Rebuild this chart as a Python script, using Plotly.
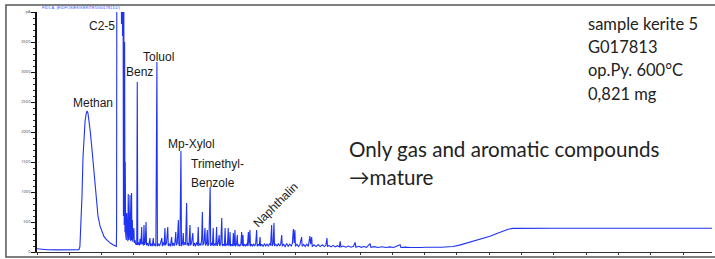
import plotly.graph_objects as go

# ---------------- data ----------------
# retention time (min), FID signal (pA)
# baseline + methane
t_methane = [0.00, 0.15, 0.40, 0.80, 1.20, 1.55, 1.62, 1.66, 1.70, 1.74, 1.78, 1.82, 1.86, 1.90,
             1.935, 1.97, 2.01, 2.05, 2.13, 2.19, 2.25, 2.31, 2.36, 2.44, 2.52, 2.59, 2.67, 2.75,
             2.85, 2.94, 3.02, 3.07]
s_methane = [55, 45, 38, 35, 35, 36, 38, 90, 450, 920, 1580, 1950, 2180, 2300,
             2350, 2320, 2200, 2050, 1700, 1380, 1080, 800, 600, 430, 320, 260, 215, 180,
             145, 120, 100, 95]

# C2-C5 gases (off scale)
t_gas = [3.08, 3.09, 3.11, 3.13, 3.15, 3.17, 3.19, 3.21, 3.23, 3.25, 3.27, 3.29, 3.31, 3.33,
         3.345, 3.36, 3.375, 3.39, 3.405, 3.415, 3.43]
s_gas = [400, 5200, 4300, 5200, 4100, 5200, 4400, 5200, 4000, 5200, 3800, 5200, 3600, 5000,
         600, 4200, 450, 3500, 330, 1500, 300]

# aromatics region
t_arom = [3.44, 3.455, 3.47, 3.485, 3.50, 3.515, 3.53, 3.545, 3.56, 3.575, 3.60, 3.615, 3.635,
          3.66, 3.675, 3.69, 3.705, 3.73, 3.75, 3.765, 3.79, 3.82, 3.86, 3.88, 3.90, 3.93, 3.96,
          3.99, 4.02, 4.05, 4.07, 4.10, 4.12, 4.14, 4.16, 4.19, 4.22, 4.24, 4.28, 4.31, 4.34,
          4.37, 4.39, 4.43, 4.46, 4.50, 4.52, 4.56, 4.60, 4.64, 4.66, 4.70, 4.74, 4.78, 4.83,
          4.85, 4.89, 4.92, 4.95, 4.97, 5.01, 5.06, 5.08, 5.12, 5.16, 5.21, 5.23, 5.27, 5.31,
          5.34, 5.37, 5.39, 5.43, 5.47, 5.49, 5.53, 5.57, 5.59, 5.63, 5.66, 5.68, 5.72, 5.75,
          5.79, 5.81, 5.85, 5.88, 5.92, 5.94, 5.98, 6.03, 6.05, 6.09, 6.13, 6.17, 6.21, 6.24,
          6.26, 6.30, 6.34, 6.37, 6.40, 6.42, 6.46, 6.50, 6.52, 6.56, 6.59, 6.61, 6.65, 6.70,
          6.72, 6.76, 6.79, 6.82, 6.84, 6.88, 6.92, 6.95, 6.97, 7.01, 7.05, 7.07, 7.11, 7.15,
          7.17, 7.21, 7.25, 7.28, 7.30, 7.34, 7.37, 7.40, 7.42, 7.45, 7.47, 7.49, 7.53, 7.57,
          7.60, 7.62, 7.64, 7.66, 7.68, 7.72, 7.75, 7.77, 7.81, 7.85, 7.89, 7.92, 7.94, 7.97,
          7.99, 8.03, 8.07, 8.11, 8.14, 8.18, 8.20, 8.24, 8.26, 8.30, 8.34, 8.38, 8.42, 8.46,
          8.50, 8.52, 8.56, 8.60, 8.63, 8.65, 8.70, 8.75, 8.80, 8.85, 8.90, 8.95, 9.00, 9.04,
          9.08, 9.10, 9.14, 9.17, 9.19, 9.24, 9.29, 9.34, 9.39, 9.43, 9.47, 9.49, 9.54, 9.60,
          9.66, 9.72, 9.78, 9.84, 9.88, 9.92, 9.95, 9.98, 10.00, 10.06, 10.12, 10.18, 10.24,
          10.26, 10.32, 10.38, 10.44, 10.50, 10.56, 10.59, 10.63, 10.65, 10.72, 10.80, 10.88,
          10.96, 11.04, 11.12, 11.18, 11.22, 11.24, 11.30, 11.38, 11.46, 11.54, 11.62, 11.70,
          11.73, 11.76, 11.85, 11.95, 12.05, 12.15, 12.25, 12.31, 12.34, 12.45, 12.55, 12.65,
          12.75, 12.89, 12.92, 13.05, 13.20, 13.35, 13.50, 13.65, 13.80, 14.05, 14.08, 14.25,
          14.45, 14.65, 14.85, 15.05, 15.25, 15.45, 15.65, 15.85]
s_arom = [250, 200, 650, 220, 300, 180, 967, 250, 200, 300, 950, 220, 180,
          983, 200, 533, 170, 250, 400, 150, 200, 130, 120, 2833, 120, 160, 110,
          220, 120, 417, 130, 170, 110, 450, 120, 150, 500, 110, 150, 100, 140,
          233, 100, 140, 95, 233, 100, 140, 95, 3167, 95, 140, 100, 150, 233,
          100, 160, 110, 400, 110, 150, 417, 100, 140, 95, 250, 100, 150, 100,
          170, 333, 110, 150, 533, 120, 100, 1683, 100, 140, 317, 110, 160, 120,
          817, 110, 150, 100, 450, 110, 150, 317, 100, 150, 95, 160, 110, 417,
          100, 140, 110, 200, 667, 110, 150, 400, 110, 140, 367, 100, 130, 1083,
          100, 150, 110, 400, 100, 140, 110, 417, 100, 140, 283, 100, 140, 567,
          100, 130, 100, 400, 100, 140, 110, 400, 100, 130, 333, 95, 130, 100,
          317, 100, 130, 367, 95, 130, 283, 95, 130, 95, 140, 333, 100, 283,
          95, 130, 95, 140, 100, 333, 100, 367, 95, 130, 95, 140, 100, 130,
          367, 95, 130, 100, 250, 95, 130, 90, 140, 100, 130, 95, 140, 110,
          450, 100, 140, 483, 100, 130, 95, 140, 100, 130, 283, 95, 130, 90,
          140, 95, 130, 100, 140, 383, 150, 367, 95, 130, 90, 130, 250,
          95, 125, 90, 130, 95, 267, 130, 250, 90, 120, 90, 125,
          90, 120, 90, 115, 233, 90, 110, 85, 110, 85, 105, 85,
          180, 85, 100, 80, 100, 80, 95, 160, 80, 95, 78, 92,
          78, 140, 78, 90, 76, 88, 75, 85, 75, 120, 75, 82,
          74, 80, 74, 78, 74, 78, 80, 84]

# pyrolysis temperature ramp / plateau
t_ramp = [16.10, 16.35, 16.56, 16.76, 16.95, 17.14, 17.34, 17.53, 17.72, 17.92, 18.10, 18.23,
          18.42, 18.69, 20.00, 22.00, 24.00, 26.12]
s_ramp = [92, 115, 140, 170, 190, 210, 240, 262, 295, 325, 360, 378,
          393, 395, 395, 395, 395, 395]

ret_time = t_methane + t_gas + t_arom + t_ramp
signal = s_methane + s_gas + s_arom + s_ramp

y_tickvals = [0, 500, 1000, 1500, 2000, 2500, 3000, 3500, 4000]
y_ticktext = ["0", "500", "1000", "1500", "2000", "2500", "3000", "3500", "pA"]

# peak labels: (text, time, signal)
peak_labels = [("Methan", 2.17, 2483), ("C2-5", 2.52, 3767), ("Benz", 3.95, 3000),
               ("Toluol", 4.72, 3250), ("Mp-Xylol", 5.96, 1800)]

info_lines = ["sample kerite 5", "G017813", "op.Py. 600°C", "0,821 mg"]
info_y = [3800, 3420, 3035, 2635]
note_lines = ["Only gas and aromatic compounds", "→mature"]
note_y = [1710, 1250]

# ---------------- figure ----------------
fig = go.Figure(go.Scatter(x=ret_time, y=signal, mode="lines",
                           line=dict(color="#1f33f2", width=1.1), hoverinfo="skip"))

label_font = dict(family="Liberation Sans, Arial, sans-serif", size=12, color="#1a1a1a")
ann = []
for txt, tx, sy in peak_labels:
    ann.append(dict(x=tx, y=sy, text=txt, showarrow=False, font=label_font,
                    xanchor="center", yanchor="middle"))
ann.append(dict(x=5.88, y=1467, text="Trimethyl-", showarrow=False, font=label_font,
                xanchor="left", yanchor="middle"))
ann.append(dict(x=5.88, y=1150, text="Benzole", showarrow=False, font=label_font,
                xanchor="left", yanchor="middle"))
ann.append(dict(x=9.23, y=783, text="Naphthalin", showarrow=False, font=label_font,
                textangle=-45, xanchor="center", yanchor="middle"))
for txt, yy in zip(info_lines, info_y):
    ann.append(dict(x=21.25, y=yy, text=txt, showarrow=False, xanchor="left", yanchor="middle",
                    font=dict(family="Lato, sans-serif", size=16.5, color="#222222")))
for txt, yy in zip(note_lines, note_y):
    ann.append(dict(x=12.0, y=yy, text=txt, showarrow=False, xanchor="left", yanchor="middle",
                    font=dict(family="Lato, DejaVu Sans, sans-serif", size=20.6, color="#222222")))
# instrument header
ann.append(dict(xref="paper", yref="paper", x=0.005, y=1.017, text="FID1 A, (E\\DFOSIEK\\KERITE5\\G017813.D)",
                showarrow=False, xanchor="left", yanchor="middle",
                font=dict(family="Liberation Sans, Arial", size=4, color="#3050ff")))

fig.update_layout(
    width=715, height=259,
    margin=dict(l=37, r=3, t=12, b=7, autoexpand=False),
    paper_bgcolor="white", plot_bgcolor="white",
    showlegend=False,
    annotations=ann,
    shapes=[dict(type="rect", xref="paper", yref="paper", x0=-0.046, x1=1.01, y0=-0.021, y1=1.029,
                 line=dict(color="#555555", width=1.5), fillcolor="rgba(0,0,0,0)", layer="above")],
    xaxis=dict(range=[0, 26.12], showgrid=False, zeroline=False, showline=True, automargin=False,
               linecolor="#333333", linewidth=1, ticks="outside", ticklen=2, tickcolor="#333333",
               tick0=0, dtick=5, tickfont=dict(size=2.5, color="#444444"),
               minor=dict(dtick=1.25, ticks="outside", ticklen=2, tickcolor="#333333")),
    yaxis=dict(range=[0, 4000], showgrid=False, zeroline=False, showline=True, automargin=False,
               linecolor="#111111", linewidth=1.5, ticks="outside", ticklen=4, tickcolor="#111111",
               tickvals=y_tickvals, ticktext=y_ticktext, tickfont=dict(size=4, color="#444444"),
               minor=dict(dtick=100, ticks="outside", ticklen=2, tickcolor="#333333")),
)

fig.write_html("out.html", config={"displayModeBar": False},
               post_script="document.body.style.margin='0px';document.body.style.overflow='hidden';")
